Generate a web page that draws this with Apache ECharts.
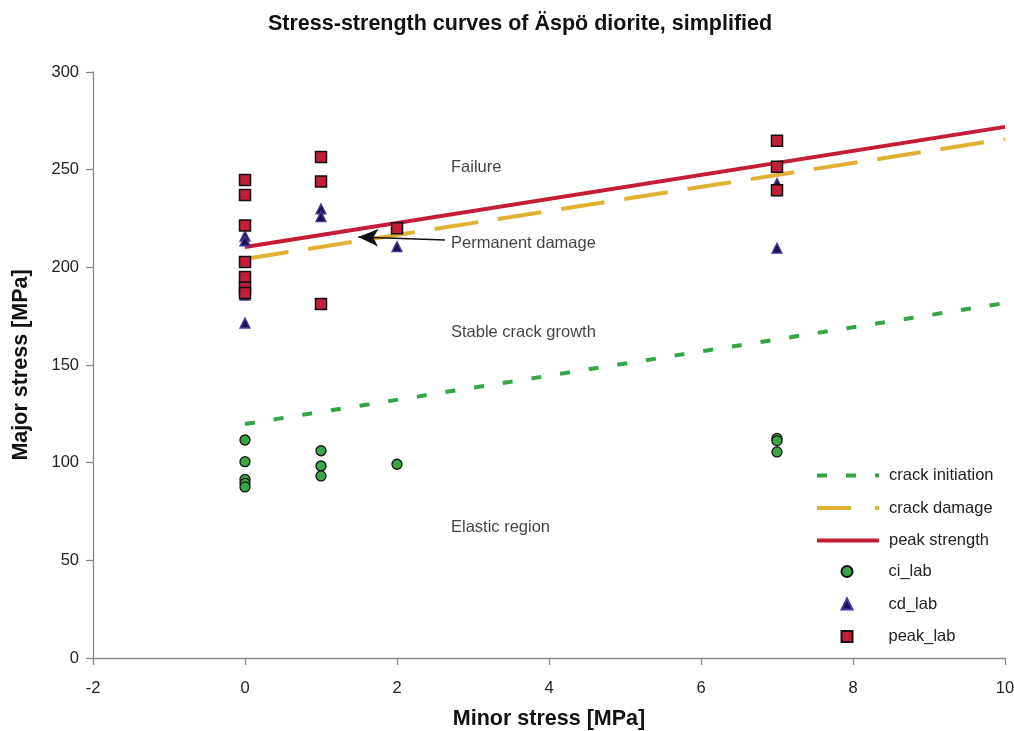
<!DOCTYPE html>
<html>
<head>
<meta charset="utf-8">
<script src="https://cdn.jsdelivr.net/npm/echarts@6/dist/echarts.min.js"></script>
<style>html,body{margin:0;padding:0;background:#fff}#c{width:1014px;height:731px}</style>
</head>
<body>
<div id="c"></div>
<script>
// ---- data ----
var titleText = 'Stress-strength curves of Äspö diorite, simplified';
var xName = 'Minor stress [MPa]';
var yName = 'Major stress [MPa]';
var seriesNames = ['crack initiation', 'crack damage', 'peak strength', 'ci_lab', 'cd_lab', 'peak_lab'];

// fitted envelope lines: [minor, major]
var crackInitiation = [[0, 119.8], [10, 181.7]];
var crackDamage = [[0, 204.3], [10, 265.7]];
var peakStrength = [[0, 210.4], [10, 271.9]];

// lab test results: [minor, major]
var ciLab = [[0, 111.6], [0, 100.5], [0, 91.4], [0, 89.4], [0, 87.6],
             [1, 106.1], [1, 98.3], [1, 93.2],
             [2, 99.2],
             [7, 112.4], [7, 111.3], [7, 105.5]];
var cdLab = [[0, 216.0], [0, 213.5], [0, 185.8], [0, 171.5],
             [1, 229.9], [1, 226.0],
             [2, 210.6],
             [7, 243.0], [7, 209.8]];
var peakLab = [[0, 244.7], [0, 237.0], [0, 221.4], [0, 202.7], [0, 195.1], [0, 189.5], [0, 186.9],
               [1, 256.5], [1, 243.9], [1, 181.2],
               [2, 220.0],
               [7, 264.8], [7, 251.5], [7, 239.4]];

// region annotations: [label, minor, major]
var regionLabels = [['Failure', 2.71, 250.9], ['Permanent damage', 2.71, 212.0],
                    ['Stable crack growth', 2.71, 166.9], ['Elastic region', 2.71, 66.6]];
var arrowFrom = [2.63, 214.0];
var arrowTo = [1.49, 215.5];

var xTicks = {min: -2, max: 10, interval: 2};
var yTicks = {min: 0, max: 300, interval: 50};

// ---- chart ----
var FONT = '"Liberation Sans", Arial, sans-serif';
var C_GREEN = '#34a647', C_ORANGE = '#e0b132', C_RED = '#c41d38';
var chart = echarts.init(document.getElementById('c'), null, {renderer: 'canvas'});
var axisLineStyle = {color: '#8a8a8a', width: 1.3};
var nameStyle = {fontFamily: FONT, fontSize: 21.5, fontWeight: 'bold', color: '#111'};
chart.setOption({
  animation: false,
  backgroundColor: '#fff',
  textStyle: {fontFamily: FONT},
  title: {
    text: titleText, left: 263, top: 8,
    textStyle: {fontFamily: FONT, fontSize: 21.5, fontWeight: 'bold', color: '#111'}
  },
  grid: {left: 93, right: 9, top: 72, bottom: 73, containLabel: false, outerBoundsMode: 'none'},
  xAxis: {
    type: 'value', min: xTicks.min, max: xTicks.max, interval: xTicks.interval,
    name: xName, nameLocation: 'middle', nameGap: 50, nameTextStyle: nameStyle,
    axisLine: {show: true, lineStyle: axisLineStyle, onZero: false},
    axisTick: {show: true, length: 7, lineStyle: axisLineStyle},
    axisLabel: {fontFamily: FONT, fontSize: 16.5, color: '#222', margin: 22},
    splitLine: {show: false}
  },
  yAxis: {
    type: 'value', min: yTicks.min, max: yTicks.max, interval: yTicks.interval,
    name: yName, nameLocation: 'middle', nameGap: 61, nameTextStyle: nameStyle,
    axisLine: {show: true, lineStyle: axisLineStyle, onZero: false},
    axisTick: {show: true, length: 7, lineStyle: axisLineStyle},
    axisLabel: {fontFamily: FONT, fontSize: 16.5, color: '#222', margin: 14},
    splitLine: {show: false}
  },
  legend: [{
    orient: 'vertical', left: 810, top: 462,
    itemWidth: 62, itemHeight: 12, itemGap: 15.5,
    itemStyle: {color: 'transparent', borderWidth: 0, opacity: 0},
    data: [
      {name: seriesNames[0], lineStyle: {color: C_GREEN, width: 4, type: [10, 19]}},
      {name: seriesNames[1], lineStyle: {color: C_ORANGE, width: 4, type: [34, 24]}},
      {name: seriesNames[2], lineStyle: {color: C_RED, width: 4, type: 'solid'}}
    ],
    textStyle: {fontFamily: FONT, fontSize: 16.5, color: '#222', padding: [0, 0, 0, 5]}
  }, {
    orient: 'vertical', left: 835.5, top: 558,
    itemWidth: 11, itemHeight: 11, itemGap: 15.5,
    data: [seriesNames[3], seriesNames[4], seriesNames[5]],
    textStyle: {fontFamily: FONT, fontSize: 16.5, color: '#222', padding: [0, 0, 0, 31]}
  }],
  series: [
    {name: seriesNames[0], type: 'line', data: crackInitiation, symbol: 'none', showSymbol: false, z: 2,
     lineStyle: {color: C_GREEN, width: 4, type: [10, 19]}, itemStyle: {color: C_GREEN}},
    {name: seriesNames[1], type: 'line', data: crackDamage, symbol: 'none', showSymbol: false, z: 2,
     lineStyle: {color: C_ORANGE, width: 4, type: [44, 20]}, itemStyle: {color: C_ORANGE}},
    {name: seriesNames[2], type: 'line', data: peakStrength, symbol: 'none', showSymbol: false, z: 2,
     lineStyle: {color: C_RED, width: 4}, itemStyle: {color: C_RED}},
    {name: seriesNames[3], type: 'scatter', data: ciLab, symbol: 'circle', symbolSize: 10, z: 3,
     itemStyle: {color: '#3aa648', borderColor: '#111', borderWidth: 1.3, opacity: 1}},
    {name: seriesNames[4], type: 'scatter', data: cdLab, symbol: 'triangle', symbolSize: 10, z: 4,
     itemStyle: {color: '#1b1250', borderColor: '#4a3aa0', borderWidth: 1.3, opacity: 1}},
    {name: seriesNames[5], type: 'scatter', data: peakLab, symbol: 'rect', symbolSize: 11, z: 5,
     itemStyle: {color: C_RED, borderColor: '#111', borderWidth: 1.5, opacity: 1}},
    {name: 'notes', type: 'scatter', silent: true, symbolSize: 0, z: 6,
     data: regionLabels.map(function (r) { return {name: r[0], value: [r[1], r[2]]}; }),
     label: {show: true, position: 'right', distance: 0, formatter: '{b}',
             fontFamily: FONT, fontSize: 16.5, color: '#111'},
     markLine: {
       silent: true, symbol: ['none', 'arrow'], symbolSize: [13, 20],
       label: {show: false},
       lineStyle: {color: '#111', width: 1.5, type: 'solid'},
       data: [[{coord: arrowFrom}, {coord: arrowTo}]]
     }}
  ]
});
</script>
</body>
</html>
